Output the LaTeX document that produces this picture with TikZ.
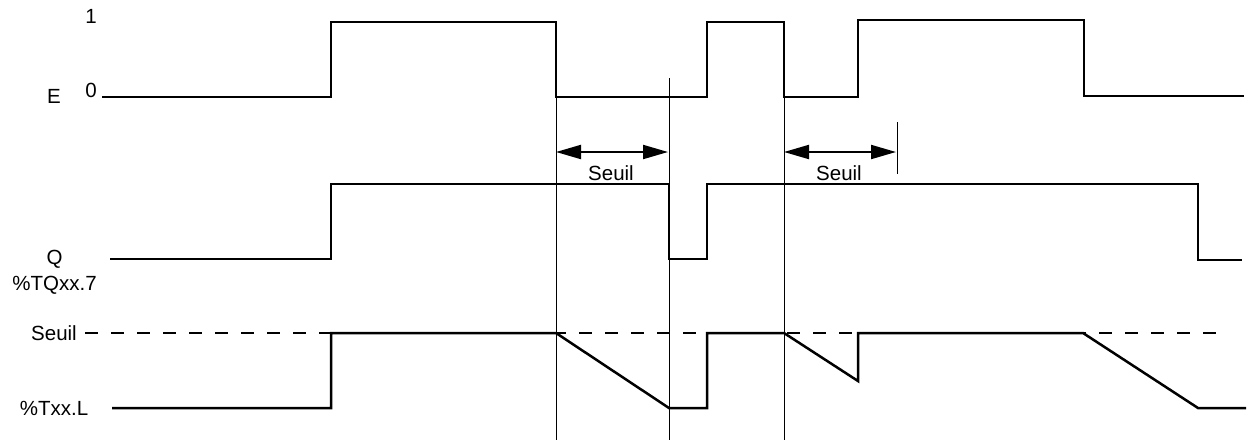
\documentclass[tikz,border=0pt]{standalone}
\usepackage{fontspec}
\setmainfont{Liberation Sans}
\usetikzlibrary{arrows.meta}
\begin{document}
\begin{tikzpicture}[x=1pt,y=-1pt,
  sig/.style={line width=2.5pt, line join=miter},
  guide/.style={line width=1pt},
  dim/.style={line width=2pt, {Triangle[length=25pt,width=14pt]}-{Triangle[length=25pt,width=14pt]}},
  seuilline/.style={line width=2pt, dash pattern=on 13pt off 13pt},
  lbl/.style={font=\fontsize{20.5}{24}\selectfont, inner sep=0pt, anchor=base}]
\useasboundingbox (0,0) rectangle (1248,445);

% labels
\node[lbl] (one) at (91,23) {1};
\node[lbl] (zero) at (91,97) {0};
\node[lbl] (E) at (54,103) {E};
\node[lbl] (Q) at (54.5,264) {Q};
\node[lbl] (TQ) at (54.5,290) {\%TQxx.7};
\node[lbl] (S) at (54,340) {Seuil};
\node[lbl] (TL) at (54,415) {\%Txx.L};
\node[lbl] (s1) at (611,180) {Seuil};
\node[lbl] (s2) at (839,180) {Seuil};

% guide lines
\coordinate (g1t) at (556,97);   \coordinate (g1b) at (556,440);
\coordinate (g2t) at (669,78);   \coordinate (g2b) at (669,440);
\coordinate (g3t) at (784,97);   \coordinate (g3b) at (784,440);
\coordinate (g4t) at (897,122);  \coordinate (g4b) at (897,174);
\draw[guide] (g1t) -- (g1b);
\draw[guide] (g2t) -- (g2b);
\draw[guide] (g3t) -- (g3b);
\draw[guide] (g4t) -- (g4b);

% dimension arrows
\coordinate (a1l) at (556,152); \coordinate (a1r) at (668,152);
\coordinate (a2l) at (784,152); \coordinate (a2r) at (896,152);
\draw[dim] (a1l) -- (a1r);
\draw[dim] (a2l) -- (a2r);

% E
\draw[sig] (102,97) -- (331,97) -- (331,22) -- (556,22) -- (556,97) -- (707,97) -- (707,22) -- (784,22) -- (784,97) -- (858,97) -- (858,20) -- (1084,20) -- (1084,96) -- (1244,96);

% Q
\draw[sig] (110,259) -- (331,259) -- (331,184) -- (669,184) -- (669,259) -- (707,259) -- (707,184) -- (1198,184) -- (1198,260) -- (1242,260);

% threshold
\draw[seuilline] (85,333) -- (1218,333);

% %Txx.L
\draw[sig] (112,408) -- (331,408) -- (331,333) -- (556,333) -- (669,408) -- (707,408) -- (707,333) -- (784,333) -- (858,381) -- (858,333) -- (1083,333) -- (1198,408) -- (1246,408);
\end{tikzpicture}
\end{document}
